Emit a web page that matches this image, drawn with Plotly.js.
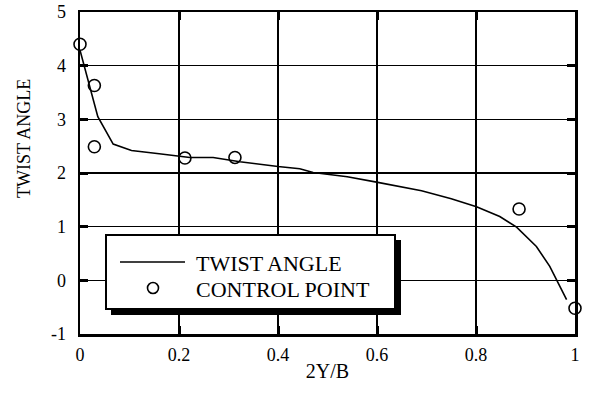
<!DOCTYPE html>
<html>
<head>
<meta charset="utf-8">
<script src="https://cdn.plot.ly/plotly-3.0.1.min.js"></script>
<style>html,body{margin:0;padding:0;background:#fff}#chart{width:589px;height:393px}</style>
</head>
<body>
<div id="chart"></div>
<script>
// Twist angle curve
const curveX = [0, 0.036, 0.067, 0.104, 0.16, 0.222, 0.269, 0.323, 0.40, 0.444, 0.471, 0.54, 0.599, 0.646, 0.69, 0.75, 0.801, 0.848, 0.882, 0.922, 0.949, 0.983];
const curveY = [4.29, 3.05, 2.54, 2.42, 2.36, 2.29, 2.29, 2.21, 2.12, 2.08, 2.01, 1.93, 1.83, 1.75, 1.67, 1.52, 1.37, 1.19, 0.99, 0.63, 0.26, -0.36];
// Control points
const ctrlX = [0, 0.029, 0.029, 0.212, 0.313, 0.887, 1.0];
const ctrlY = [4.40, 3.63, 2.49, 2.28, 2.29, 1.33, -0.52];
// Labels
const seriesNames = ["TWIST ANGLE", "CONTROL POINT"];
const xTitle = "2Y/B";
const yTitle = "TWIST ANGLE";
const xTicks = [0, 0.2, 0.4, 0.6, 0.8, 1];
const xTickText = ["0", "0.2", "0.4", "0.6", "0.8", "1"];
const yTicks = [-1, 0, 1, 2, 3, 4, 5];
const yTickText = ["-1", "0", "1", "2", "3", "4", "5"];

const FONT = 'Liberation Serif';
const L = 80, R = 575, T = 12, B = 334;
const px = v => (v - L) / (R - L);
const py = v => (B - v) / (B - T);

const traces = [
  {x: curveX, y: curveY, mode: 'lines', name: seriesNames[0], line: {color: 'black', width: 1.6}, showlegend: false},
  {x: ctrlX, y: ctrlY, mode: 'markers', name: seriesNames[1], cliponaxis: false,
   marker: {symbol: 'circle-open', size: 12, color: 'black', line: {width: 1.6, color: 'black'}}, showlegend: false}
];

const axisCommon = {
  showgrid: true, gridcolor: 'black', gridwidth: 1.5,
  showline: true, linecolor: 'black', linewidth: 2.5, mirror: 'ticks',
  ticks: 'inside', ticklen: 8, tickwidth: 3, tickcolor: 'black',
  zeroline: false, tickfont: {family: FONT, size: 18, color: 'black'}
};

const layout = {
  width: 589, height: 393,
  margin: {l: L, r: 589 - R, t: T, b: 393 - B},
  paper_bgcolor: 'white', plot_bgcolor: 'white',
  showlegend: false,
  font: {family: FONT, color: 'black'},
  xaxis: Object.assign({}, axisCommon, {range: [0, 1], tickvals: xTicks, ticktext: xTickText, ticklabelstandoff: 3,
    title: {text: xTitle, font: {family: FONT, size: 20, color: 'black'}, standoff: 0}}),
  yaxis: Object.assign({}, axisCommon, {range: [-1, 5], tickvals: yTicks, ticktext: yTickText, ticklabelstandoff: 8}),
  shapes: [
    {type: 'rect', xref: 'paper', yref: 'paper', layer: 'above',
     x0: px(111), x1: px(401), y0: py(315), y1: py(240), fillcolor: 'black', line: {width: 0}},
    {type: 'rect', xref: 'paper', yref: 'paper', layer: 'above',
     x0: px(106), x1: px(395), y0: py(309), y1: py(235), fillcolor: 'white', line: {color: 'black', width: 2}},
    {type: 'line', xref: 'paper', yref: 'paper', layer: 'above',
     x0: px(120), x1: px(185), y0: py(262), y1: py(262), line: {color: 'black', width: 1.6}},
    {type: 'circle', xref: 'paper', yref: 'paper', layer: 'above',
     x0: px(147.5), x1: px(158.5), y0: py(293.5), y1: py(282.5), line: {color: 'black', width: 1.6}}
  ],
  annotations: [
    {xref: 'paper', yref: 'paper', x: px(24), y: py(139), xanchor: 'center', yanchor: 'middle', showarrow: false,
     textangle: -90, text: yTitle, font: {family: FONT, size: 18, color: 'black'}},
    {xref: 'paper', yref: 'paper', x: px(194), y: py(263), xanchor: 'left', yanchor: 'middle', showarrow: false,
     text: seriesNames[0], font: {family: FONT, size: 22, color: 'black'}},
    {xref: 'paper', yref: 'paper', x: px(194), y: py(289), xanchor: 'left', yanchor: 'middle', showarrow: false,
     text: seriesNames[1], font: {family: FONT, size: 22, color: 'black'}}
  ]
};

Plotly.newPlot('chart', traces, layout, {displayModeBar: false, staticPlot: true});
</script>
</body>
</html>
